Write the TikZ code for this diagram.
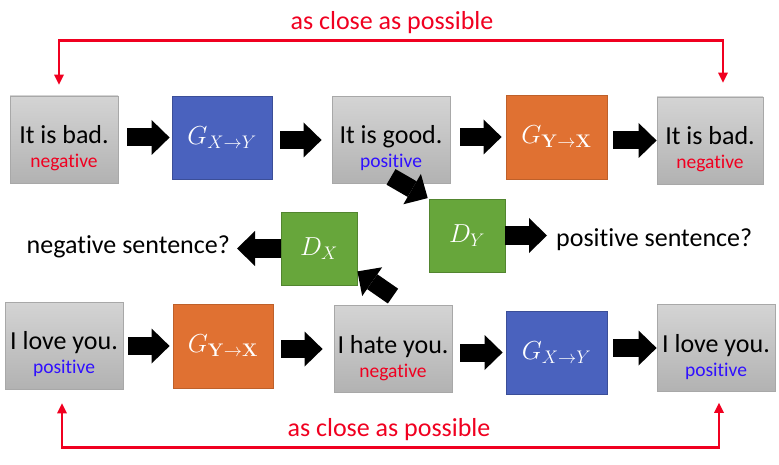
\RequirePackage{fix-cm}
\documentclass[tikz,border=0pt]{standalone}
\usepackage[no-math]{fontspec}
\setmainfont[Ligatures=NoCommon]{Carlito}
\usetikzlibrary{arrows.meta}
\definecolor{closered}{RGB}{240,0,32}
\definecolor{posblue}{RGB}{48,16,255}
\definecolor{gboxtop}{RGB}{212,212,212}
\definecolor{gboxbot}{RGB}{178,178,178}
\definecolor{gboxline}{RGB}{168,168,168}
\definecolor{genblue}{RGB}{74,98,190}
\definecolor{genorange}{RGB}{224,113,50}
\definecolor{discgreen}{RGB}{103,166,59}

\begin{document}
\begin{tikzpicture}[x=1pt, y=1pt,
    sentence box/.style={shape=rectangle, top color=gboxtop, bottom color=gboxbot, draw=gboxline, line width=0.8pt, minimum width=118pt, minimum height=87pt, inner xsep=3pt, inner ysep=2pt, align=center, text height=62pt, text depth=6pt, font=\fontsize{26}{24}\selectfont},
    net box/.style={shape=rectangle, line width=0.8pt, minimum width=101pt, minimum height=84pt, text=white, font=\fontsize{26}{30}\selectfont},
    gen xy/.style={net box, fill=genblue, draw=genblue!80!black},
    gen yx/.style={net box, fill=genorange, draw=genorange!85!black},
    disc/.style={net box, fill=discgreen, draw=discgreen!80!black, minimum width=76pt, minimum height=73pt},
    question/.style={font=\fontsize{26}{30}\selectfont, inner sep=0pt},
    close label/.style={font=\fontsize{26}{30}\selectfont, text=closered, inner sep=0pt, anchor=base},
    flow/.style={draw=black, line width=18pt, -{Triangle[length=18pt, width=35pt, line width=0pt]}},
    close loop/.style={draw=closered, line width=2.8pt, {Triangle[length=10pt, width=10pt, line width=0pt]}-{Triangle[length=10pt, width=10pt, line width=0pt]}}
  ]
  \def\negtag{{\fontsize{19.5}{24}\selectfont\color{closered}negative}}
  \def\postag{{\fontsize{19.5}{24}\selectfont\color{posblue}positive}}
  \useasboundingbox (0,0) rectangle (779,-465);

  % sentences
  \begin{scope}[every node/.style={sentence box}]
    \node [minimum width=108pt] (bad1) at (64,-139.5) {It is bad.\\\negtag};
    \node (good) at (391,-140) {It is good.\\\postag};
    \node [minimum width=106pt] (bad2) at (710,-140.5) {It is bad.\\\negtag};
    \node (love1) at (64,-345.5) {I love you.\\\postag};
    \node (hate) at (393,-349) {I hate you.\\\negtag};
    \node (love2) at (716,-348) {I love you.\\\postag};
  \end{scope}

  % generators and discriminators
  \node [gen xy, minimum width=100pt, minimum height=83pt] (gxy1) at (222,-137.5) {$G_{X\to Y}$};
  \node [gen yx] (gyx1) at (556.5,-137) {$G_{\mathbf{Y\to X}}$};
  \node [gen yx, minimum width=100pt] (gyx2) at (223,-346) {$G_{\mathbf{Y\to X}}$};
  \node [gen xy, minimum height=83pt] (gxy2) at (556.5,-352.5) {$G_{X\to Y}$};
  \node [disc] (dx) at (319,-248.5) {$D_X$};
  \node [disc] (dy) at (467,-235.5) {$D_Y$};

  \node [question, anchor=base east] (negq) at (230,-254) {negative sentence?};
  \node [question, anchor=base west] (posq) at (556,-247) {positive sentence?};

  \begin{scope}[every path/.style={flow}]
    \path [shorten <=9pt, shorten >=2pt] (gxy1.west -| bad1.east) -- (gxy1.west);
    \path [shorten <=8pt, shorten >=10pt] (good.west -| gxy1.east) -- (good.west);
    \path [shorten <=10pt, shorten >=4pt] (gyx1.west -| good.east) -- (gyx1.west);
    \path [shorten <=6pt] (bad2.west -| gyx1.east) -- (bad2.west);
    \path [shorten <=5pt, shorten >=3pt] (gyx2.west -| love1.east) -- (gyx2.west);
    \path [shorten <=8pt, shorten >=11pt] (hate.west -| gyx2.east) -- (hate.west);
    \path [shorten <=8pt, shorten >=3pt] (gxy2.west -| hate.east) -- (gxy2.west);
    \path [shorten <=6pt] (love2.west -| gxy2.east) -- (love2.west);
    \path [shorten >=1pt] ([yshift=7pt]good.south) -- (dy.north west);
    \path ([yshift=9pt]hate.north) -- ([yshift=14pt]dx.south east);
    \path [shorten >=7pt] (dx.west) -- (dx.west -| negq.east);
    \path [shorten >=9pt] (dy.east) -- (dy.east -| posq.west);
  \end{scope}

  % cycle consistency
  \draw [close loop] ([xshift=-5pt, yshift=11pt]bad1.north) -- ++(0,44) -| ([xshift=13pt, yshift=14pt]bad2.north);
  \draw [close loop] ([xshift=-2pt, yshift=-14pt]love1.south) -- ++(0,-44) -| ([xshift=3pt, yshift=-11pt]love2.south);
  \node [close label] (closetop) at (392,-29.5) {as close as possible};
  \node [close label] (closebot) at (389,-436) {as close as possible};
\end{tikzpicture}
\end{document}
